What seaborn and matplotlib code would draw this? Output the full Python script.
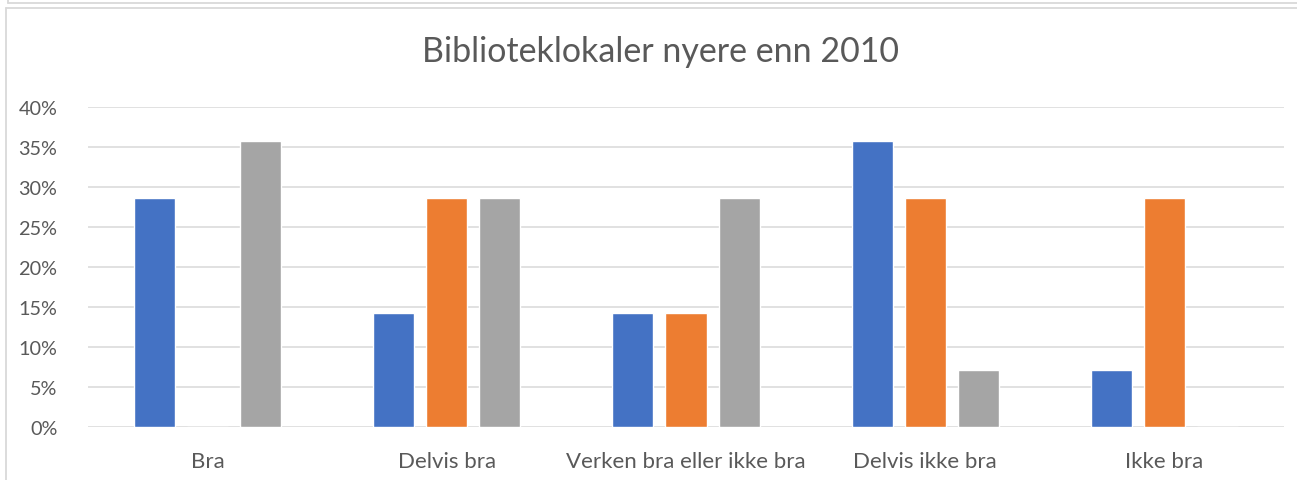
import matplotlib
matplotlib.use("Agg")
import matplotlib.pyplot as plt
from matplotlib.lines import Line2D
from matplotlib.ticker import PercentFormatter
import seaborn as sns
import pandas as pd

categories = ["Bra", "Delvis bra", "Verken bra eller ikke bra", "Delvis ikke bra", "Ikke bra"]
series_names = ["Serie 1", "Serie 2", "Serie 3"]
serie1 = [0.2857, 0.1429, 0.1429, 0.3571, 0.0714]
serie2 = [0.0, 0.2857, 0.1429, 0.2857, 0.2857]
serie3 = [0.3571, 0.2857, 0.2857, 0.0714, 0.0]
colors = ["#4472C4", "#ED7D31", "#A5A5A5"]
title = "Biblioteklokaler nyere enn 2010"

rows = []
for name, vals in zip(series_names, [serie1, serie2, serie3]):
    for c, v in zip(categories, vals):
        rows.append({"Kategori": c, "Serie": name, "Andel": v})
df = pd.DataFrame(rows)

sns.set_theme(style="white")
plt.rcParams["font.family"] = ["Lato", "DejaVu Sans"]

W, H = 1297, 481
fig = plt.figure(figsize=(W / 100, H / 100), dpi=100)
ax = fig.add_axes([88 / W, 1 - 428 / H, (1284 - 88) / W, (428 - 108) / H])

sns.barplot(data=df, x="Kategori", y="Andel", hue="Serie", order=categories,
            hue_order=series_names, palette=colors, width=0.665, gap=0.226,
            legend=False, ax=ax, saturation=1, errorbar=None)

ax.set_ylim(0, 0.40)
ax.set_xlim(-0.5, len(categories) - 0.5)
ax.set_yticks([i * 0.05 for i in range(9)])
ax.yaxis.set_major_formatter(PercentFormatter(1.0, decimals=0))
ax.set_xlabel("")
ax.set_ylabel("")
ax.grid(axis="y", color="#D9D9D9", linewidth=1.1)
ax.set_axisbelow(True)
for s in ["top", "right", "left", "bottom"]:
    ax.spines[s].set_visible(False)
ax.tick_params(axis="y", length=0, pad=22, labelsize=14.3, labelcolor="#595959")
ax.tick_params(axis="x", length=0, pad=17, labelsize=16, labelcolor="#595959")

fig.text(661 / W, 1 - 52 / H, title, ha="center", va="center", fontsize=24.5,
         color="#595959")

# outer chart borders
border = "#D9D9D9"
fig.add_artist(Line2D([6 / W, 6 / W], [0, 1 - 9 / H], color=border, lw=1.3))
fig.add_artist(Line2D([6 / W, 1], [1 - 9 / H, 1 - 9 / H], color=border, lw=1.3))
fig.add_artist(Line2D([8 / W, 1], [1 - 3.5 / H, 1 - 3.5 / H], color=border, lw=1.3))
fig.add_artist(Line2D([8 / W, 8 / W], [1 - 3.5 / H, 1], color=border, lw=1.3))

fig.savefig("out.png", dpi=100, facecolor="white")
